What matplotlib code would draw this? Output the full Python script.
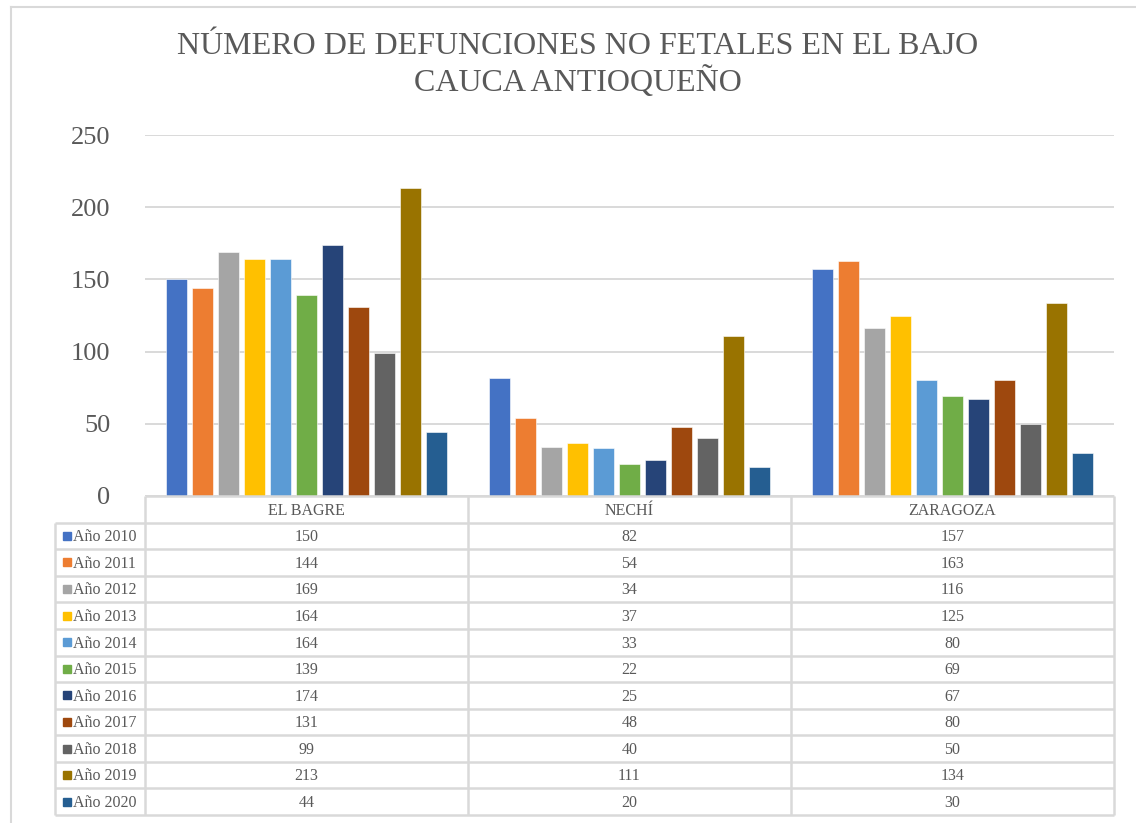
import matplotlib
matplotlib.use("Agg")
import matplotlib.pyplot as plt
from matplotlib.lines import Line2D
import numpy as np

categories = ["EL BAGRE", "NECHÍ", "ZARAGOZA"]
series_names = ["Año 2010", "Año 2011", "Año 2012", "Año 2013", "Año 2014", "Año 2015",
                "Año 2016", "Año 2017", "Año 2018", "Año 2019", "Año 2020"]
values = [
    [150, 82, 157],
    [144, 54, 163],
    [169, 34, 116],
    [164, 37, 125],
    [164, 33, 80],
    [139, 22, 69],
    [174, 25, 67],
    [131, 48, 80],
    [99, 40, 50],
    [213, 111, 134],
    [44, 20, 30],
]
colors = ["#4472C4", "#ED7D31", "#A5A5A5", "#FFC000", "#5B9BD5", "#70AD47",
          "#264478", "#9E480E", "#636363", "#997300", "#255E91"]
yticks = [0, 50, 100, 150, 200, 250]
title_lines = ["NÚMERO DE DEFUNCIONES NO FETALES EN EL BAJO", "CAUCA ANTIOQUEÑO"]

TXT = "#595959"
GRID = "#D9D9D9"
FONT = "Liberation Serif"
plt.rcParams["font.family"] = [FONT, "DejaVu Serif"]

W, H = 1136, 823
fig = plt.figure(figsize=(W / 100, H / 100), dpi=100)

# main plot area
x0, x1 = 145, 1114
y_top, y_zero = 135, 496
ax = fig.add_axes([x0 / W, 1 - y_zero / H, (x1 - x0) / W, (y_zero - y_top) / H])
n = len(series_names)
slot = 26 / 323
bw = 20.5 / 323
xs = np.arange(len(categories))
for j in range(n):
    ax.bar(xs + (j - (n - 1) / 2) * slot, values[j], width=bw, color=colors[j],
           edgecolor="white", linewidth=0.4, zorder=3)
ax.set_xlim(-0.5, len(categories) - 0.5)
ax.set_ylim(0, 250)
ax.set_yticks(yticks)
ax.set_yticklabels([str(t) for t in yticks], fontsize=19, color=TXT)
ax.tick_params(axis="y", length=0, pad=25)
ax.set_xticks([])
for s in ax.spines.values():
    s.set_visible(False)
ax.yaxis.grid(True, color=GRID, linewidth=1.4, zorder=0)
ax.set_axisbelow(True)

# data table
left_units = 90 / 323
tb_top, tb_bot = 496, 815
tax = fig.add_axes([55 / W, 1 - tb_bot / H, (x1 - 55) / W, (tb_bot - tb_top) / H])
nrows = n + 1
xl = -0.5 - left_units
tax.set_xlim(xl, len(categories) - 0.5)
tax.set_ylim(nrows, 0)
tax.axis("off")
lk = dict(color=GRID, linewidth=1.8, solid_capstyle="butt", clip_on=False)
tax.plot([-0.5, len(categories) - 0.5], [0, 0], **lk)
for r in range(1, nrows + 1):
    tax.plot([xl, len(categories) - 0.5], [r, r], **lk)
for c in range(len(categories) + 1):
    tax.plot([c - 0.5, c - 0.5], [0, nrows], **lk)
tax.plot([xl, xl], [1, nrows], **lk)
FS = 11.5
BOFF = 0.2
for i, cat in enumerate(categories):
    tax.text(i, 0.5 + BOFF, cat, ha="center", va="baseline", fontsize=FS, color=TXT)
for j in range(n):
    yc = j + 1.5
    tax.plot([xl + 12 / 323], [yc], marker="s", markersize=6.2, color=colors[j],
             linestyle="none", clip_on=False)
    tax.text(xl + 18 / 323, yc + BOFF, series_names[j], ha="left", va="baseline",
             fontsize=FS, color=TXT)
    for i in range(len(categories)):
        tax.text(i, yc + BOFF, str(values[j][i]), ha="center", va="baseline",
                 fontsize=FS, color=TXT)

# title
fig.text(578 / W, 1 - 47 / H, title_lines[0], ha="center", va="center",
         fontsize=23, color=TXT)
fig.text(578 / W, 1 - 82 / H, title_lines[1], ha="center", va="center",
         fontsize=23, color=TXT)

# chart border
fig.add_artist(Line2D([11 / W, 11 / W], [0, 1 - 7 / H], color=GRID, linewidth=1.5))
fig.add_artist(Line2D([11 / W, 1], [1 - 7 / H, 1 - 7 / H], color=GRID, linewidth=1.5))

fig.savefig("out.png", dpi=100)
